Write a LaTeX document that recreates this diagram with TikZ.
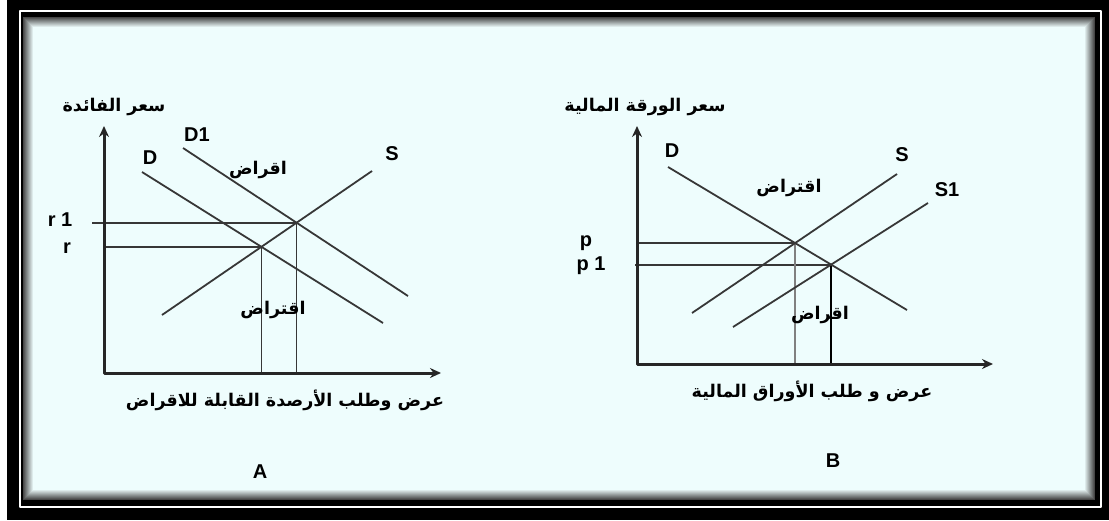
\documentclass[tikz,border=0pt]{standalone}
\usepackage{fontspec}
\setmainfont{Liberation Sans}
\newfontfamily\arabicfont[Script=Arabic]{DejaVu Sans}
\TeXXeTstate=1
\usepackage{xcolor}
\usepackage{tikz}
\usetikzlibrary{arrows.meta,calc}
\definecolor{bgcyan}{RGB}{238,253,253}
\definecolor{shadegray}{RGB}{70,70,70}
\definecolor{curvegray}{RGB}{55,55,55}
\newcommand{\artxt}[1]{\beginR #1\endR}

\begin{document}
\begin{tikzpicture}[x=1pt,y=-1pt,>={Stealth[length=11pt,width=10pt]},line join=round,
  axis/.style={line width=3pt,black!85},
  curve/.style={line width=1.8pt,curvegray},
  guide/.style={line width=1.8pt,curvegray},
  latin/.style={font=\bfseries\fontsize{20}{22}\selectfont,inner sep=0pt},
  arab/.style={font=\arabicfont\bfseries\fontsize{17.5}{20}\selectfont,inner sep=0pt}]
  \useasboundingbox (0,0) rectangle (1109,520);
  % frame
  \fill[white] (0,0) rectangle (1109,520);
  \fill[black] (7,0) rectangle (1109,520);
  \draw[white,line width=2pt] (19.5,11) rectangle (1100.5,506.5);
  \fill[black] (21,12.5) rectangle (1099,505);
  \foreach \k [evaluate=\k as \pc using int(10*\k)] in {0,...,10}
    \fill[bgcyan!\pc!shadegray] ({23+\k},{17+\k}) rectangle ({1095-\k},{500-\k});
  % graph A
  \coordinate (OA) at (104,373);
  \coordinate (YA) at (104,126);
  \coordinate (XA) at (441,373);
  \coordinate (DA0) at (142,172);
  \coordinate (DA1) at (383,323);
  \coordinate (D1A0) at (183,148);
  \coordinate (D1A1) at (408,296);
  \coordinate (SA0) at (162,315);
  \coordinate (SA1) at (372,171);
  \coordinate (EA) at (intersection of DA0--DA1 and SA0--SA1);
  \coordinate (EA1) at (intersection of D1A0--D1A1 and SA0--SA1);
  \draw[guide] ($(OA |- EA1)+(-12,0)$) -- (EA1);
  \draw[guide] (OA |- EA) -- (EA);
  \draw[guide] (EA) -- (EA |- OA);
  \draw[guide] (EA1) -- (EA1 |- OA);
  \draw[curve] (DA0) -- (DA1);
  \draw[curve] (D1A0) -- (D1A1);
  \draw[curve] (SA0) -- (SA1);
  \draw[axis,<->] (YA) -- (OA) -- (XA);
  \node[latin] (lDA) at (150,158) {D};
  \node[latin] (lD1A) at (197,135) {D1};
  \node[latin] (lSA) at (392,154) {S};
  \node[latin] (lr1) at (60,220) {r 1};
  \node[latin] (lr) at (67,248) {r};
  \node[arab] (lendA) at (258,170) {\artxt{اقراض}};
  \node[arab] (lborA) at (273,310) {\artxt{اقتراض}};
  \node[arab] (ylabA) at (114,107) {\artxt{سعر الفائدة}};
  \node[arab] (xlabA) at (285,400) {\artxt{عرض وطلب الأرصدة القابلة للاقراض}};
  \node[latin] (capA) at (260,472) {A};
  % graph B
  \coordinate (OB) at (637,364);
  \coordinate (YB) at (637,126);
  \coordinate (XB) at (993,364);
  \coordinate (DB0) at (668,167);
  \coordinate (DB1) at (907,310);
  \coordinate (SB0) at (692,313);
  \coordinate (SB1) at (897,174);
  \coordinate (S1B0) at (733,327);
  \coordinate (S1B1) at (928,203);
  \coordinate (EB) at (intersection of DB0--DB1 and SB0--SB1);
  \coordinate (EB1) at (intersection of DB0--DB1 and S1B0--S1B1);
  \draw[guide] (OB |- EB) -- (EB);
  \draw[guide] ($(OB |- EB1)+(-2,0)$) -- (EB1);
  \draw[guide,gray] (EB) -- (EB |- OB);
  \draw[guide,black] (EB1) -- (EB1 |- OB);
  \draw[curve] (DB0) -- (DB1);
  \draw[curve] (SB0) -- (SB1);
  \draw[curve] (S1B0) -- (S1B1);
  \draw[axis,<->] (YB) -- (OB) -- (XB);
  \node[latin] (lDB) at (672,151) {D};
  \node[latin] (lSB) at (902,155) {S};
  \node[latin] (lS1B) at (947,190) {S1};
  \node[latin] (lp) at (586,243) {p};
  \node[latin] (lp1) at (591,266) {p 1};
  \node[arab] (lborB) at (789,188) {\artxt{اقتراض}};
  \node[arab] (lendB) at (820,315) {\artxt{اقراض}};
  \node[arab] (ylabB) at (645,107) {\artxt{سعر الورقة المالية}};
  \node[arab] (xlabB) at (812,391) {\artxt{عرض و طلب الأوراق المالية}};
  \node[latin] (capB) at (833,461) {B};
\end{tikzpicture}
\end{document}
